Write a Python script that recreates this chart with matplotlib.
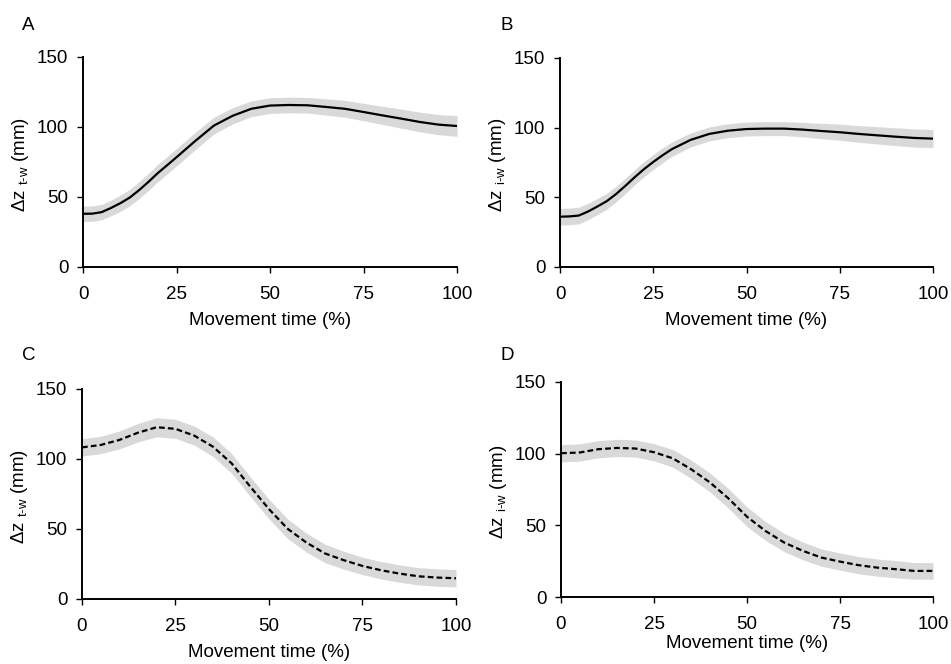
import numpy as np
import matplotlib
matplotlib.use("Agg")
import matplotlib.pyplot as plt

plt.rcParams["font.family"] = ["Liberation Sans", "DejaVu Sans"]
plt.rcParams["mathtext.fontset"] = "custom"
plt.rcParams["mathtext.rm"] = "Liberation Sans"
plt.rcParams["mathtext.it"] = "Liberation Sans:italic"

# Normalised movement time (%) -- denser sampling over the early rise
rise_time = [0, 2.5, 5, 7.5, 10, 12.5, 15, 17.5, 20, 22.5, 25, 27.5, 30,
             35, 40, 45, 50, 55, 60, 65, 70, 75, 80, 85, 90, 95, 100]
fall_time = [0, 5, 10, 15, 20, 25, 30, 35, 40, 45, 50,
             55, 60, 65, 70, 75, 80, 85, 90, 95, 100]

# Panel A: thumb-wrist vertical distance (mean, SD)
a_mean = [38.0, 38.1, 39.2, 42.2, 45.6, 49.6, 54.9, 60.8, 67.1, 72.7, 78.4, 84.2, 90.0,
          101.0, 108.0, 113.0, 115.3, 115.7, 115.5, 114.3, 113.0, 110.7, 108.3,
          106.0, 103.6, 101.7, 100.7]
a_sd = [5.5, 5.5, 5.5, 5.6, 5.8, 5.9, 6.0, 6.1, 6.2, 6.2, 6.2, 6.2, 6.2,
        6.0, 5.8, 5.6, 5.6, 5.6, 5.6, 5.8, 6.0, 6.2, 6.5, 6.8, 7.0, 7.2, 7.4]

# Panel B: index-wrist vertical distance (mean, SD)
b_mean = [36.1, 36.3, 36.9, 39.8, 43.4, 47.2, 52.3, 58.2, 64.4, 70.2, 75.4, 80.2, 84.6,
          91.2, 95.5, 97.8, 99.0, 99.3, 99.3, 98.6, 97.6, 96.7, 95.5,
          94.5, 93.5, 92.6, 92.1]
b_sd = [6.0, 6.0, 6.0, 5.9, 5.8, 5.7, 5.6, 5.5, 5.5, 5.4, 5.4, 5.3, 5.2,
        5.0, 5.0, 5.0, 5.0, 5.0, 5.0, 5.2, 5.5, 5.8, 6.0, 6.2, 6.4, 6.5, 6.5]

# Panel C: thumb-wrist vertical distance, second condition
c_mean = [108.3, 110.0, 113.6, 118.8, 122.7, 121.5, 116.7, 108.8, 96.9, 80.2, 64.2,
          50.1, 40.3, 32.5, 27.7, 23.6, 20.5, 18.1, 16.2, 15.3, 14.8]
c_sd = [6.2, 6.2, 6.4, 6.6, 6.8, 6.8, 6.8, 7.0, 7.0, 7.0, 7.0,
        7.0, 6.8, 6.6, 6.4, 6.2, 6.2, 6.2, 6.2, 6.2, 6.2]

# Panel D: index-wrist vertical distance, second condition
d_mean = [100.3, 100.8, 103.1, 104.0, 103.6, 101.0, 96.8, 89.1, 80.0, 68.8, 56.0,
          46.0, 38.0, 32.2, 27.5, 24.7, 22.2, 20.5, 19.4, 18.2, 18.2]
d_sd = [6.0, 6.0, 6.0, 6.0, 6.0, 6.0, 6.2, 6.4, 6.6, 6.8, 6.8,
        6.6, 6.4, 6.2, 6.0, 6.0, 6.0, 6.0, 6.0, 5.8, 5.8]

x_ticks = [0, 25, 50, 75, 100]
y_ticks = [0, 50, 100, 150]

panels = [
    ("A", rise_time, a_mean, a_sd, "t\u2010w", "-", [0.0873, 0.5979, 0.3933, 0.3163], -0.214),
    ("B", rise_time, b_mean, b_sd, "i\u2010w", "-", [0.5889, 0.5979, 0.3922, 0.3148], -0.215),
    ("C", fall_time, c_mean, c_sd, "t\u2010w", "--", [0.0862, 0.0979, 0.3933, 0.3163], -0.214),
    ("D", fall_time, d_mean, d_sd, "i\u2010w", "--", [0.5899, 0.1009, 0.3912, 0.3238], -0.177),
]
letter_pos = {"A": (0.023, 0.962), "B": (0.526, 0.962),
              "C": (0.023, 0.464), "D": (0.526, 0.464)}

fig = plt.figure(figsize=(9.51, 6.64), dpi=100)
fs = 13.5

for letter, time, mean, sd, sub, ls, rect, xlab_y in panels:
    ax = fig.add_axes(rect)
    t = np.array(time, dtype=float)
    m = np.array(mean)
    s = np.array(sd)
    ax.fill_between(t, m - s, m + s, color="#d9d9d9", linewidth=0, zorder=1)
    line, = ax.plot(t, m, color="black", linewidth=1.6, linestyle=ls, zorder=2)
    if ls == "--":
        line.set_dashes((2.6, 1.4))
    ax.set_xlim(0, 100)
    ax.set_ylim(0, 150)
    ax.set_xticks(x_ticks)
    ax.set_yticks(y_ticks)
    for side in ("top", "right"):
        ax.spines[side].set_visible(False)
    for side in ("left", "bottom"):
        ax.spines[side].set_linewidth(1.4)
        ax.spines[side].set_color("black")
    ax.tick_params(axis="both", direction="out", length=4.5, width=1.0,
                   labelsize=fs, colors="black")
    ax.tick_params(axis="x", pad=9)
    ax.tick_params(axis="y", pad=6)
    ax.set_xlabel("Movement time (%)", fontsize=fs)
    ax.set_ylabel("\u0394z $_{\\mathregular{" + sub + "}}$ (mm)", fontsize=fs)
    ax.xaxis.set_label_coords(0.5, xlab_y)
    ax.yaxis.set_label_coords(-0.14, 0.49)
    fig.text(letter_pos[letter][0], letter_pos[letter][1], letter,
             fontsize=fs, ha="left", va="center")

fig.savefig("out.png", dpi=100)
